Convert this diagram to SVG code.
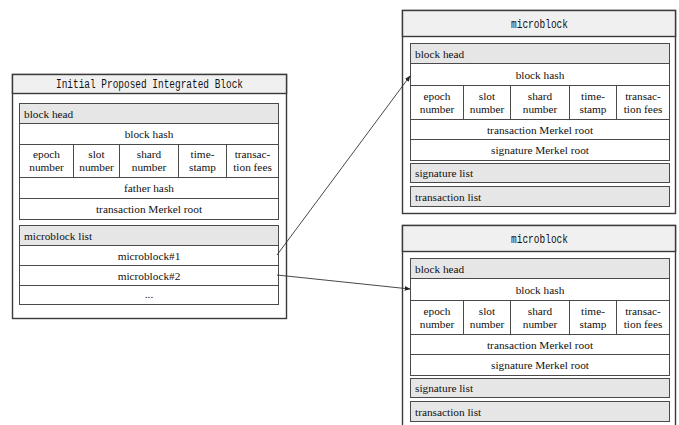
<svg xmlns="http://www.w3.org/2000/svg" width="679" height="425" viewBox="0 0 679 425">
  <style>
    .outer { fill: #ffffff; stroke: #3a3a3a; stroke-width: 1.4; }
    .title { fill: #f0f0f0; stroke: #3a3a3a; stroke-width: 1.4; }
    .row { fill: #ffffff; stroke: #4a4a4a; stroke-width: 1; }
    .grey { fill: #e6e6e6; stroke: #4a4a4a; stroke-width: 1; }
    .mono { font-family: 'Liberation Mono', 'DejaVu Sans Mono', monospace; font-size: 12px; fill: #111; }
    .c { text-anchor: middle; }
    .link { stroke: #333; stroke-width: 0.9; fill: none; marker-end: url(#ah); }
  </style>
  <defs>
    <marker id="ah" viewBox="0 0 10 10" refX="9" refY="5" markerWidth="6" markerHeight="6" orient="auto" markerUnits="userSpaceOnUse">
      <path d="M0,1 L10,5 L0,9 z" fill="#222"/>
    </marker>
  </defs>

  <!-- Integrated block -->
  <g id="integrated-block" font-family="Liberation Serif, Times New Roman, DejaVu Serif, serif" font-size="11.3" fill="#111">
    <rect class="outer" x="12.5" y="74.5" width="274" height="244"/>
    <rect class="title" x="12.5" y="74.5" width="274" height="19"/>
    <text class="mono c" x="149.5" y="88" textLength="187" lengthAdjust="spacingAndGlyphs">Initial Proposed Integrated Block</text>

    <rect class="grey" x="19.5" y="103.5" width="259" height="20"/>
    <text x="24" y="117.5">block head</text>
    <rect class="row" x="19.5" y="123.5" width="259" height="21"/>
    <text class="c" x="149" y="138">block hash</text>
    <rect class="row" x="19.5" y="144.5" width="259" height="33"/>
    <line class="row" x1="73.5" y1="144.5" x2="73.5" y2="177.5"/>
    <line class="row" x1="119.5" y1="144.5" x2="119.5" y2="177.5"/>
    <line class="row" x1="178.5" y1="144.5" x2="178.5" y2="177.5"/>
    <line class="row" x1="226.5" y1="144.5" x2="226.5" y2="177.5"/>
    <text class="c" x="46.5" y="158">epoch</text>
    <text class="c" x="46.5" y="171">number</text>
    <text class="c" x="96.5" y="158">slot</text>
    <text class="c" x="96.5" y="171">number</text>
    <text class="c" x="149" y="158">shard</text>
    <text class="c" x="149" y="171">number</text>
    <text class="c" x="202.5" y="158">time-</text>
    <text class="c" x="202.5" y="171">stamp</text>
    <text class="c" x="252.5" y="158">transac-</text>
    <text class="c" x="252.5" y="171">tion fees</text>
    <rect class="row" x="19.5" y="177.5" width="259" height="21"/>
    <text class="c" x="149" y="192">father hash</text>
    <rect class="row" x="19.5" y="198.5" width="259" height="21"/>
    <text class="c" x="149" y="213">transaction Merkel root</text>

    <rect class="grey" x="19.5" y="225.5" width="259" height="20"/>
    <text x="24" y="239.5">microblock list</text>
    <rect class="row" x="19.5" y="245.5" width="259" height="20"/>
    <text class="c" x="149" y="259.5">microblock#1</text>
    <rect class="row" x="19.5" y="265.5" width="259" height="20"/>
    <text class="c" x="149" y="279.5">microblock#2</text>
    <rect class="row" x="19.5" y="285.5" width="259" height="19"/>
    <text class="c" x="149" y="298">...</text>
  </g>

  <!-- Microblock 1 -->
  <g id="microblock-1" font-family="Liberation Serif, Times New Roman, DejaVu Serif, serif" font-size="11.3" fill="#111">
    <rect class="outer" x="402.5" y="10.5" width="273" height="203"/>
    <rect class="title" x="402.5" y="10.5" width="273" height="26"/>
    <text class="mono c" x="539.5" y="28" textLength="57" lengthAdjust="spacingAndGlyphs">microblock</text>

    <rect class="grey" x="410.5" y="43.5" width="259" height="20"/>
    <text x="415" y="57.5">block head</text>
    <rect class="row" x="410.5" y="63.5" width="259" height="22"/>
    <text class="c" x="540" y="78.5">block hash</text>
    <rect class="row" x="410.5" y="85.5" width="259" height="34"/>
    <line class="row" x1="463.5" y1="85.5" x2="463.5" y2="119.5"/>
    <line class="row" x1="510.5" y1="85.5" x2="510.5" y2="119.5"/>
    <line class="row" x1="569.5" y1="85.5" x2="569.5" y2="119.5"/>
    <line class="row" x1="616.5" y1="85.5" x2="616.5" y2="119.5"/>
    <text class="c" x="437" y="99.5">epoch</text>
    <text class="c" x="437" y="112.5">number</text>
    <text class="c" x="487" y="99.5">slot</text>
    <text class="c" x="487" y="112.5">number</text>
    <text class="c" x="540" y="99.5">shard</text>
    <text class="c" x="540" y="112.5">number</text>
    <text class="c" x="593" y="99.5">time-</text>
    <text class="c" x="593" y="112.5">stamp</text>
    <text class="c" x="643" y="99.5">transac-</text>
    <text class="c" x="643" y="112.5">tion fees</text>
    <rect class="row" x="410.5" y="119.5" width="259" height="20"/>
    <text class="c" x="540" y="133.5">transaction Merkel root</text>
    <rect class="row" x="410.5" y="139.5" width="259" height="21"/>
    <text class="c" x="540" y="154">signature Merkel root</text>

    <rect class="grey" x="410.5" y="163.5" width="259" height="19"/>
    <text x="415" y="177">signature list</text>
    <rect class="grey" x="410.5" y="186.5" width="259" height="20"/>
    <text x="415" y="200.5">transaction list</text>
  </g>

  <!-- Microblock 2 -->
  <g id="microblock-2" font-family="Liberation Serif, Times New Roman, DejaVu Serif, serif" font-size="11.3" fill="#111">
    <rect class="outer" x="402.5" y="225.5" width="273" height="205"/>
    <rect class="title" x="402.5" y="225.5" width="273" height="26"/>
    <text class="mono c" x="539.5" y="243" textLength="57" lengthAdjust="spacingAndGlyphs">microblock</text>

    <rect class="grey" x="410.5" y="258.5" width="259" height="20"/>
    <text x="415" y="272.5">block head</text>
    <rect class="row" x="410.5" y="278.5" width="259" height="22"/>
    <text class="c" x="540" y="293.5">block hash</text>
    <rect class="row" x="410.5" y="300.5" width="259" height="34"/>
    <line class="row" x1="463.5" y1="300.5" x2="463.5" y2="334.5"/>
    <line class="row" x1="510.5" y1="300.5" x2="510.5" y2="334.5"/>
    <line class="row" x1="569.5" y1="300.5" x2="569.5" y2="334.5"/>
    <line class="row" x1="616.5" y1="300.5" x2="616.5" y2="334.5"/>
    <text class="c" x="437" y="314.5">epoch</text>
    <text class="c" x="437" y="327.5">number</text>
    <text class="c" x="487" y="314.5">slot</text>
    <text class="c" x="487" y="327.5">number</text>
    <text class="c" x="540" y="314.5">shard</text>
    <text class="c" x="540" y="327.5">number</text>
    <text class="c" x="593" y="314.5">time-</text>
    <text class="c" x="593" y="327.5">stamp</text>
    <text class="c" x="643" y="314.5">transac-</text>
    <text class="c" x="643" y="327.5">tion fees</text>
    <rect class="row" x="410.5" y="334.5" width="259" height="20"/>
    <text class="c" x="540" y="348.5">transaction Merkel root</text>
    <rect class="row" x="410.5" y="354.5" width="259" height="21"/>
    <text class="c" x="540" y="369">signature Merkel root</text>

    <rect class="grey" x="410.5" y="378.5" width="259" height="19"/>
    <text x="415" y="392">signature list</text>
    <rect class="grey" x="410.5" y="401.5" width="259" height="20"/>
    <text x="415" y="415.5">transaction list</text>
  </g>

  <!-- Connectors -->
  <g id="connectors">
    <line class="link" x1="277" y1="255" x2="410" y2="76"/>
    <line class="link" x1="277" y1="275" x2="410" y2="289"/>
  </g>
</svg>
